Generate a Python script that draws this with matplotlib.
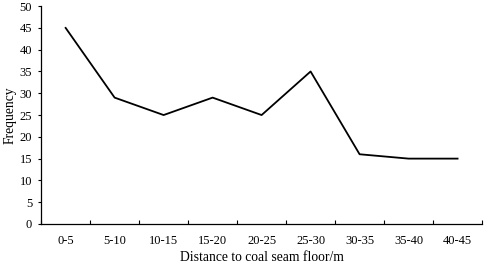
import matplotlib
matplotlib.use('Agg')
import matplotlib.pyplot as plt
import numpy as np

categories = ['0-5', '5-10', '10-15', '15-20', '20-25', '25-30', '30-35', '35-40', '40-45']
frequency = [45, 29, 25, 29, 25, 35, 16, 15, 15]

plt.rcParams['font.family'] = ['Liberation Serif', 'DejaVu Serif']

fig = plt.figure(figsize=(4.84, 2.66), dpi=100)
ax = fig.add_axes([0.085, 0.158, 0.911, 0.819])

x = np.arange(len(categories))
ax.plot(x, frequency, color='black', linewidth=1.3)

ax.set_xlim(-0.5, len(categories) - 0.5)
ax.set_ylim(0, 50)
ax.set_yticks(range(0, 51, 5))
ax.set_xticks(x)
ax.set_xticklabels(categories)
ax.set_xticks(np.arange(-0.5, len(categories)), minor=True)

ax.tick_params(axis='x', which='major', length=0, labelsize=9, pad=8)
ax.tick_params(axis='x', which='minor', direction='in', length=3, width=0.8)
ax.tick_params(axis='y', direction='out', length=2.5, width=0.8, labelsize=9, pad=4)

for side in ['top', 'right']:
    ax.spines[side].set_visible(False)
for side in ['left', 'bottom']:
    ax.spines[side].set_linewidth(0.9)

ax.set_xlabel('Distance to coal seam floor/m', fontsize=9.8, labelpad=3)
ax.set_ylabel('Frequency', fontsize=9.8, labelpad=2)

fig.savefig('out.png', dpi=100)
